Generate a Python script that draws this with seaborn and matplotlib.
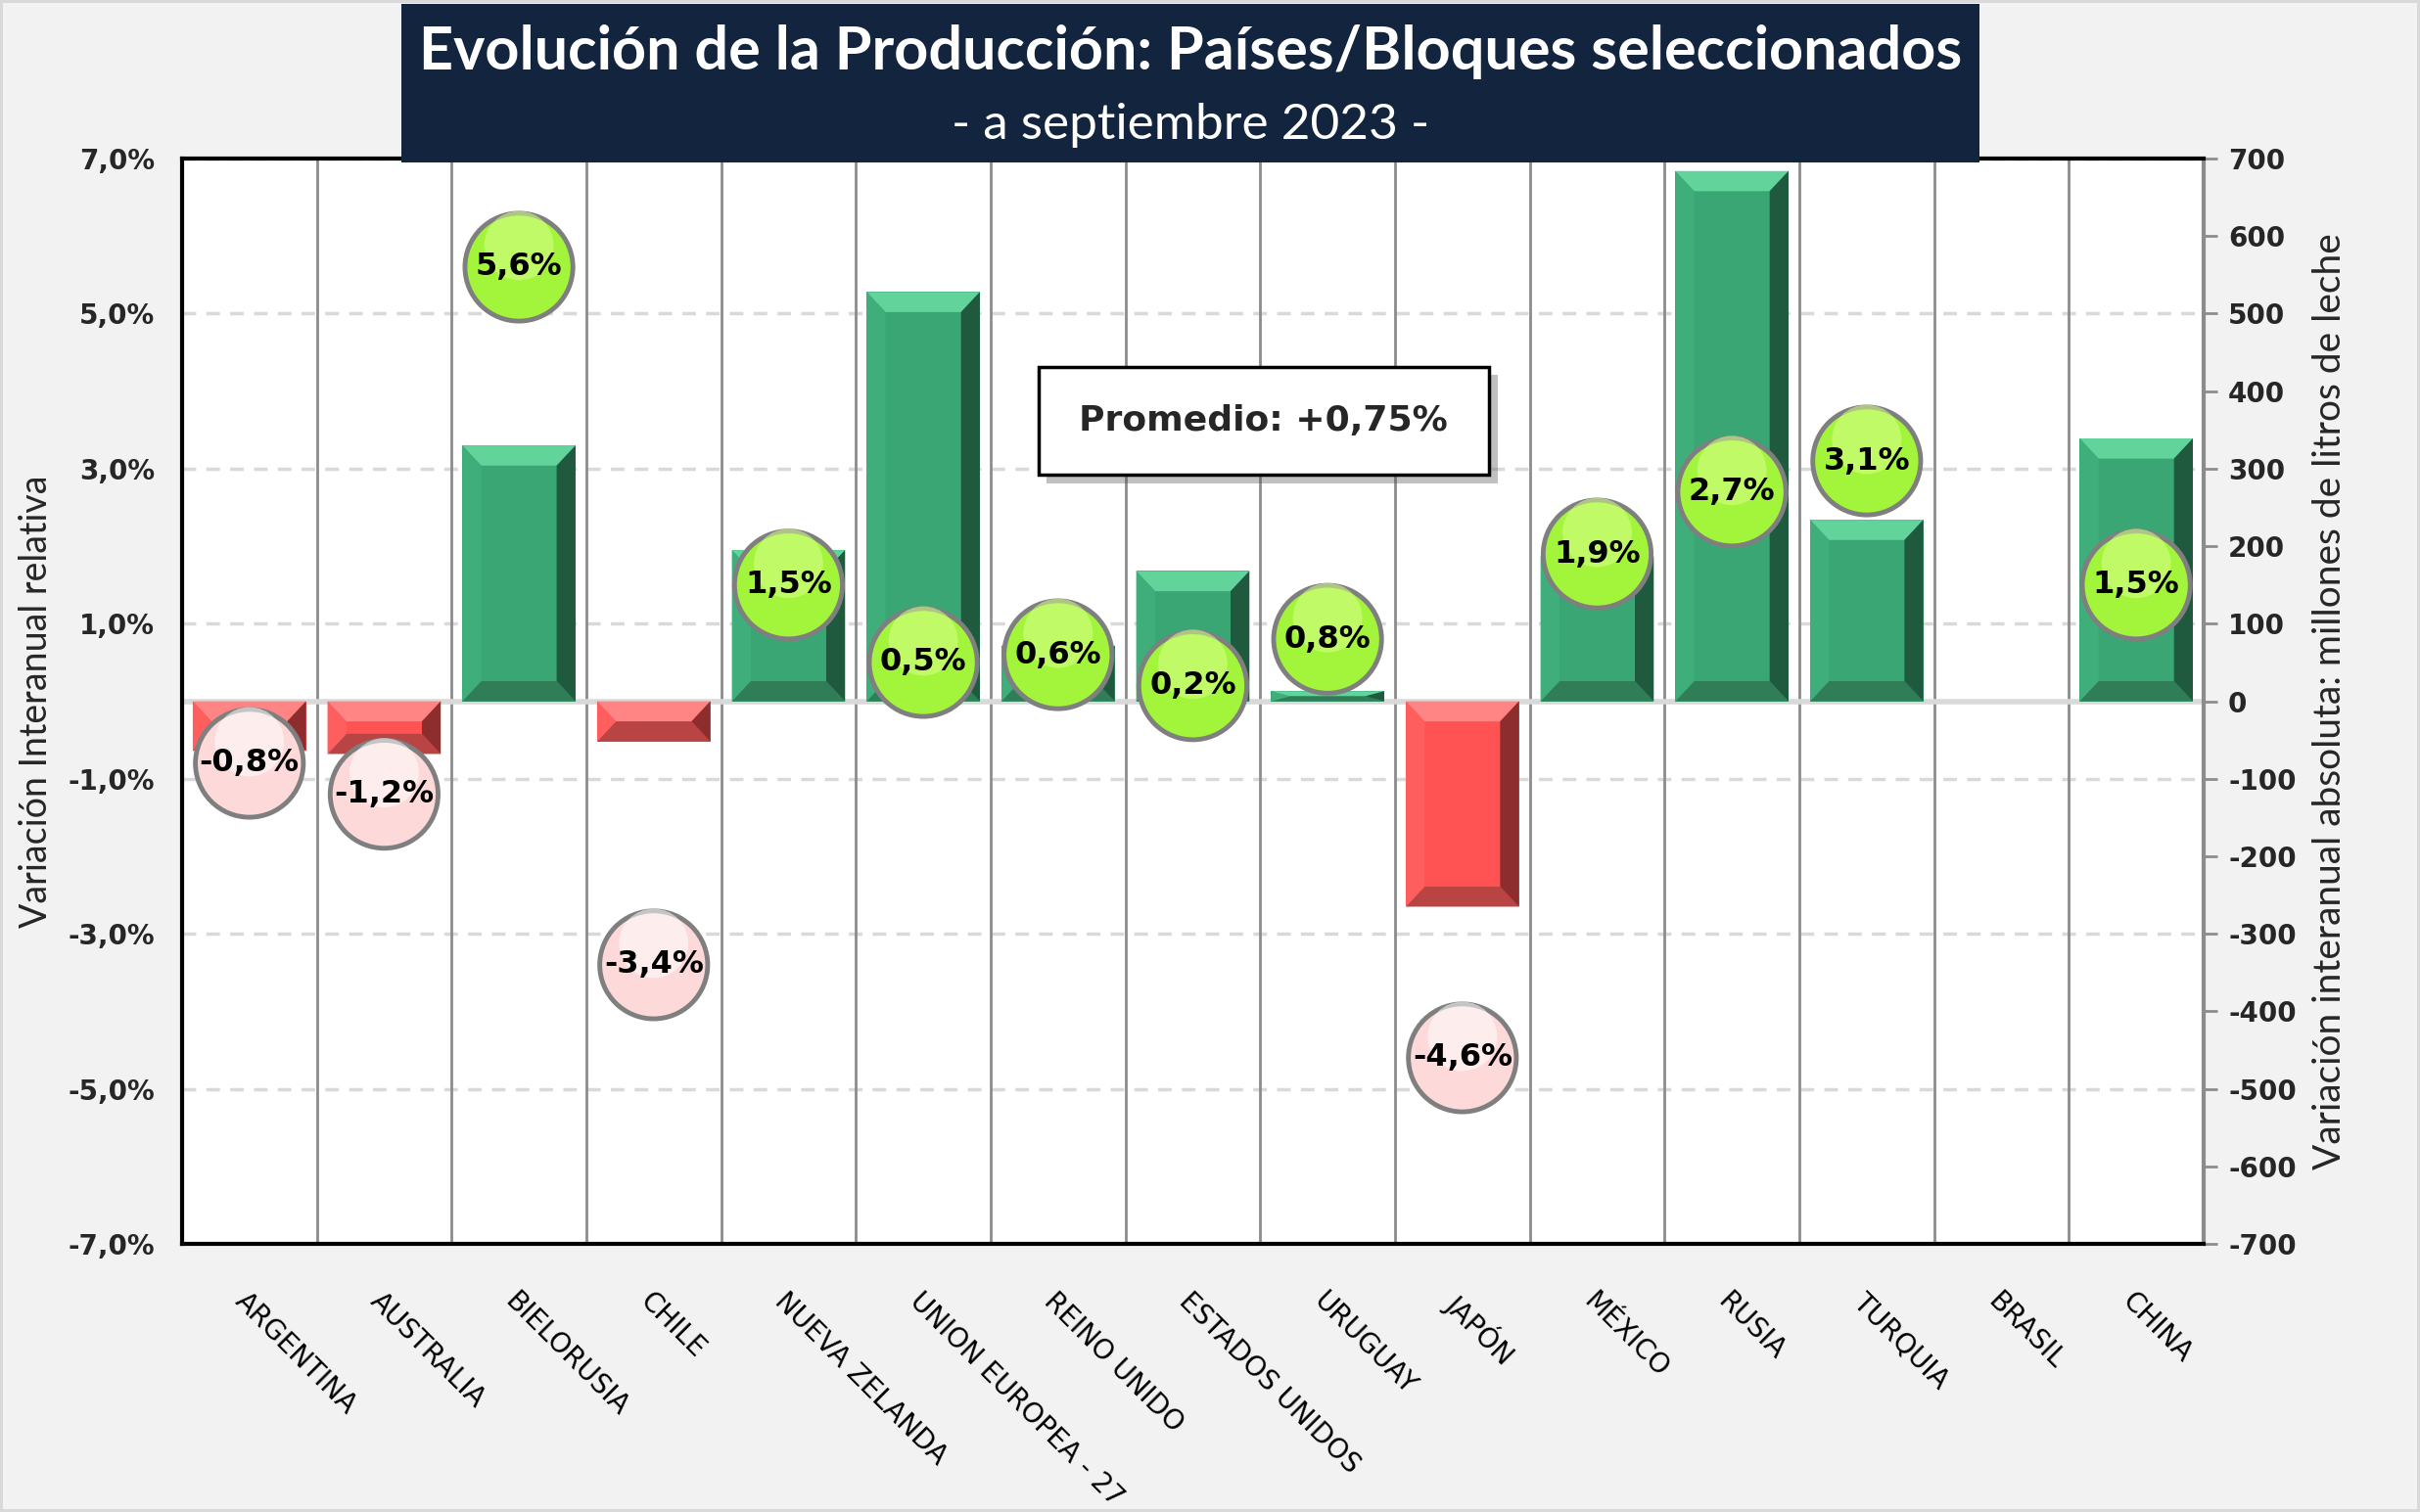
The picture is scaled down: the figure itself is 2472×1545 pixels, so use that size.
import numpy as np
import pandas as pd
import matplotlib
matplotlib.use("Agg")
import matplotlib.pyplot as plt
import matplotlib.patheffects as pe
from matplotlib.patches import Rectangle, Polygon
import seaborn as sns

# datos
paises = ["ARGENTINA", "AUSTRALIA", "BIELORUSIA", "CHILE", "NUEVA ZELANDA",
          "UNION EUROPEA - 27", "REINO UNIDO", "ESTADOS UNIDOS", "URUGUAY",
          "JAPÓN", "MÉXICO", "RUSIA", "TURQUIA", "BRASIL", "CHINA"]
var_absoluta = [-64, -68, 330, -52, 195, 528, 72, 168, 13, -265, 187, 684, 234, np.nan, 339]
var_relativa = [-0.8, -1.2, 5.6, -3.4, 1.5, 0.5, 0.6, 0.2, 0.8, -4.6, 1.9, 2.7, 3.1, np.nan, 1.5]
promedio = 0.75
ticks_pct = [-7, -5, -3, -1, 1, 3, 5, 7]
ticks_abs = list(range(-700, 701, 100))

VERDE = "#39a673"
ROJO = "#ff5353"
BURB_POS = "#a3f53b"
BURB_NEG = "#fdd9d9"
NAVY = "#13243f"
FUENTE_TIT = ["Lato", "DejaVu Sans"]

sns.set_style("white")
plt.rcParams["font.family"] = ["DejaVu Sans"]
plt.rcParams["axes.unicode_minus"] = False

df = pd.DataFrame({"pais": paises, "abs": var_absoluta, "rel": var_relativa})
df["color"] = np.where(df["abs"] < 0, ROJO, VERDE)
df["burbuja"] = np.where(df["rel"] < 0, BURB_NEG, BURB_POS)
df["brillo"] = np.where(df["rel"] < 0, "#ffffff", "#d8ff8a")

fig = plt.figure(figsize=(24.72, 15.45), dpi=100)
fig.patch.set_facecolor("#f2f2f2")
fig.patch.set_edgecolor("#d9d9d9")
fig.patch.set_linewidth(4)

ax = fig.add_axes([0.0752, 0.1773, 0.8354, 0.7178])
ax2 = ax.twinx()
# barras atras, burbujas adelante
ax2.set_zorder(1)
ax.set_zorder(2)
ax.patch.set_visible(False)
ax2.patch.set_visible(True)
ax2.patch.set_facecolor("white")

# lineas de fondo
for t in ticks_pct:
    ax2.axhline(t * 100, color="#d9d9d9", lw=2.5, ls=(0, (4, 3)), zorder=0)
for i in range(len(paises) - 1):
    ax2.axvline(i + 0.5, color="#8c8c8c", lw=2, zorder=0.5)
ax2.axhline(0, color="#d9d9d9", lw=4, zorder=0.6)

pal = dict(zip(df["pais"], df["color"]))
sns.barplot(data=df, x="pais", y="abs", hue="pais", order=paises, palette=pal,
            width=0.84, saturation=1, legend=False, ax=ax2, zorder=2,
            edgecolor="none", linewidth=0)

# biselado de las barras (efecto 3D de Excel)
for bar in ax2.patches:
    h = bar.get_height()
    if not np.isfinite(h) or h == 0:
        continue
    x0 = bar.get_x()
    x1 = x0 + bar.get_width()
    top, bot = max(0, h), min(0, h)
    bx = 0.14
    by = min(26, abs(h) / 2)
    pos = h > 0
    claro = "#62d39b" if pos else "#ff8585"
    oscuro = "#2f7e58" if pos else "#b94444"
    lado = "#1f5a3e" if pos else "#8e2d2d"
    izq = "#40ae7b" if pos else "#ff5e5e"
    polys = [
        ([(x0, top), (x1, top), (x1 - bx, top - by), (x0 + bx, top - by)], claro),
        ([(x0, bot), (x1, bot), (x1 - bx, bot + by), (x0 + bx, bot + by)], oscuro),
        ([(x1, top), (x1, bot), (x1 - bx, bot + by), (x1 - bx, top - by)], lado),
        ([(x0, top), (x0, bot), (x0 + bx, bot + by), (x0 + bx, top - by)], izq),
    ]
    for pts, c in polys:
        ax2.add_patch(Polygon(pts, closed=True, facecolor=c, edgecolor="none", zorder=2.1))

# burbujas
sns.scatterplot(data=df, x="pais", y="rel", hue="pais",
                palette=dict(zip(df["pais"], df["burbuja"])), s=6300,
                edgecolor="#7f7f7f", linewidth=3.5, legend=False, ax=ax, zorder=3)
# brillo superior de las burbujas
brillo = ax.scatter(range(len(paises)), var_relativa, s=2600, c=df["brillo"],
                    marker="o", alpha=0.55, linewidths=0, zorder=3.1)
brillo.set_offset_transform(ax.transData + matplotlib.transforms.ScaledTranslation(0, 0.22, fig.dpi_scale_trans))
for i, v in enumerate(var_relativa):
    if np.isnan(v):
        continue
    ax.text(i, v, f"{v:.1f}%".replace(".", ","), ha="center", va="center",
            fontsize=23, fontweight="heavy", color="black", zorder=4)

ax.set_xlim(-0.5, len(paises) - 0.5)
ax.set_ylim(-7, 7)
ax2.set_ylim(-700, 700)

ax.set_yticks(ticks_pct)
ax.set_yticklabels([f"{t:.1f}%".replace(".", ",") for t in ticks_pct],
                   fontsize=20, fontweight="bold")
ax2.set_yticks(ticks_abs)
ax2.set_yticklabels([str(t) for t in ticks_abs], fontsize=20, fontweight="bold")

ax.set_xticks(range(len(paises)))
ax.set_xticklabels(paises, rotation=-45, ha="left", va="top",
                   rotation_mode="anchor", fontsize=20, color="black")
ax.tick_params(axis="x", length=0, pad=32)
ax.tick_params(axis="y", length=0, pad=20)
ax2.tick_params(axis="y", length=10, width=2, color="#8c8c8c", pad=8, direction="out", right=True)
ax.set_xlabel("")
ax.set_ylabel("Variación Interanual relativa", fontsize=27,
              family=FUENTE_TIT, labelpad=10)
ax2.set_xlabel("")
ax2.set_ylabel("Variación interanual absoluta: millones de litros de leche", fontsize=28,
               family=FUENTE_TIT, labelpad=12)

for s in ["left", "top", "bottom"]:
    ax.spines[s].set_color("black")
    ax.spines[s].set_linewidth(3)
ax.spines["right"].set_visible(False)
for s in ["left", "top", "bottom"]:
    ax2.spines[s].set_visible(False)
ax2.spines["right"].set_color("#8c8c8c")
ax2.spines["right"].set_linewidth(3)

# cuadro promedio
caja = Rectangle((0.4237, 0.7084), 0.2229, 0.0996, transform=ax.transAxes,
                 facecolor="white", edgecolor="black", lw=2.5, zorder=5)
caja.set_path_effects([pe.SimplePatchShadow(offset=(6, -6), alpha=0.35), pe.Normal()])
ax.add_patch(caja)
ax.text(0.535, 0.758, f"Promedio: +{promedio:.2f}%".replace(".", ","),
        transform=ax.transAxes, ha="center", va="center", fontsize=26,
        fontweight="bold", zorder=6)

# titulo
fig.add_artist(Rectangle((0.166, 0.8926), 0.652, 0.105, transform=fig.transFigure,
                         facecolor=NAVY, edgecolor="none", zorder=10))
fig.text(0.492, 0.966, "Evolución de la Producción: Países/Bloques seleccionados",
         ha="center", va="center", color="white", fontsize=44, fontweight="bold",
         family=FUENTE_TIT, zorder=11)
fig.text(0.492, 0.917, "- a septiembre 2023 -", ha="center", va="center",
         color="white", fontsize=37, family=FUENTE_TIT, zorder=11)

fig.savefig("out.png", dpi=100, facecolor=fig.get_facecolor(), edgecolor=fig.get_edgecolor())
